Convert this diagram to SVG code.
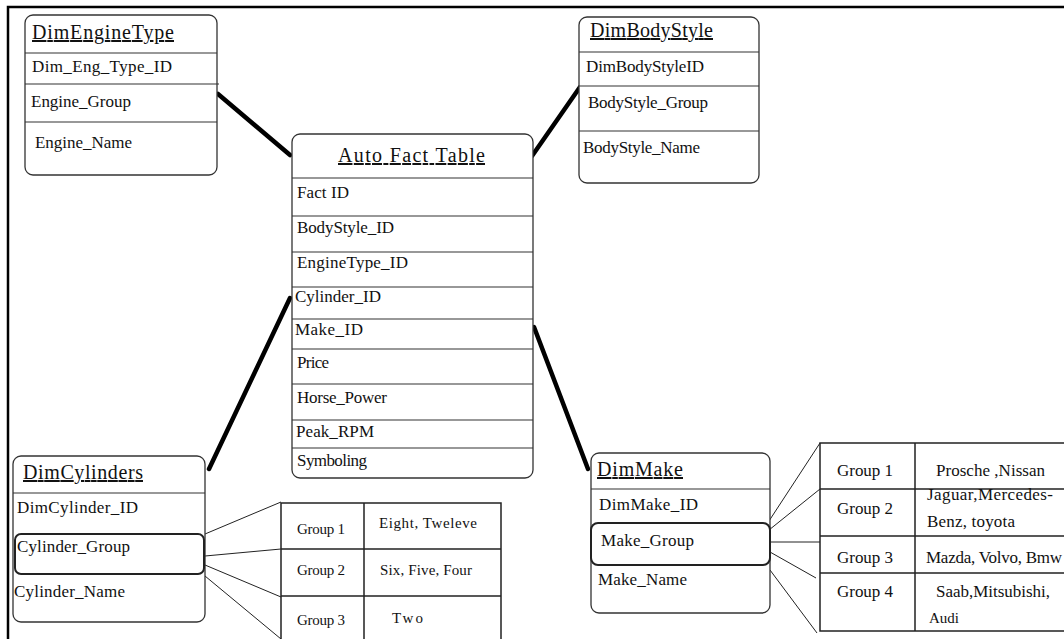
<svg xmlns="http://www.w3.org/2000/svg" width="1064" height="639" viewBox="0 0 1064 639">
<style>
text{font-family:"Liberation Serif","Times New Roman",serif;fill:#111;font-size:17px}
.t{font-size:20px;text-decoration:underline}
.s{font-size:15px}
.box{fill:#fff;stroke:#333;stroke-width:1.3}
.in{fill:none;stroke:#222;stroke-width:2}
.ln{stroke:#333;stroke-width:1.2}
.thick{stroke:#000;stroke-width:4.5;stroke-linecap:round;fill:none}
.thin{stroke:#222;stroke-width:1;fill:none}
.tb{fill:none;stroke:#222;stroke-width:1.5}
</style>
<rect width="1064" height="639" fill="#fff"/>
<path d="M8 639 V7 H1064" fill="none" stroke="#000" stroke-width="2.5"/>

<g id="connectors">
<line class="thick" x1="218" y1="94" x2="290" y2="155"/>
<line class="thick" x1="580" y1="87" x2="532" y2="156"/>
<line class="thick" x1="290" y1="298" x2="209" y2="469"/>
<line class="thick" x1="534" y1="327" x2="588" y2="469"/>
<line class="thin" x1="205" y1="534" x2="281" y2="502"/>
<line class="thin" x1="205" y1="556" x2="281" y2="549"/>
<line class="thin" x1="205" y1="565" x2="281" y2="597"/>
<line class="thin" x1="205" y1="576" x2="281" y2="639"/>
<line class="thin" x1="769" y1="521" x2="820" y2="443"/>
<line class="thin" x1="769" y1="530" x2="820" y2="489"/>
<line class="thin" x1="770" y1="542" x2="820" y2="542"/>
<line class="thin" x1="770" y1="552" x2="816" y2="578"/>
<line class="thin" x1="770" y1="570" x2="817" y2="633"/>
</g>

<g id="DimEngineType">
<rect class="box" x="25" y="15" width="192" height="160" rx="8"/>
<line class="ln" x1="25" y1="53" x2="217" y2="53"/>
<line class="ln" x1="25" y1="84" x2="219" y2="84"/>
<line class="ln" x1="25" y1="122" x2="217" y2="122"/>
<text class="t" x="32" y="39" textLength="142">DimEngineType</text>
<text x="32" y="72" textLength="140">Dim_Eng_Type_ID</text>
<text x="31" y="107" textLength="100">Engine_Group</text>
<text x="35" y="148" textLength="97">Engine_Name</text>
</g>

<g id="DimBodyStyle">
<rect class="box" x="579" y="17" width="180" height="166" rx="8"/>
<line class="ln" x1="579" y1="52" x2="759" y2="52"/>
<line class="ln" x1="579" y1="86" x2="759" y2="86"/>
<line class="ln" x1="579" y1="131" x2="759" y2="131"/>
<text class="t" x="590" y="37" textLength="123">DimBodyStyle</text>
<text x="586" y="72" textLength="118">DimBodyStyleID</text>
<text x="588" y="108" textLength="120">BodyStyle_Group</text>
<text x="583" y="153" textLength="117">BodyStyle_Name</text>
</g>

<g id="AutoFactTable">
<rect class="box" x="292" y="134" width="241" height="344" rx="8"/>
<line class="ln" x1="292" y1="178" x2="533" y2="178"/>
<line class="ln" x1="292" y1="216" x2="533" y2="216"/>
<line class="ln" x1="292" y1="252" x2="533" y2="252"/>
<line class="ln" x1="292" y1="287" x2="533" y2="287"/>
<line class="ln" x1="292" y1="319" x2="533" y2="319"/>
<line class="ln" x1="292" y1="349" x2="533" y2="349"/>
<line class="ln" x1="292" y1="384" x2="533" y2="384"/>
<line class="ln" x1="292" y1="420" x2="533" y2="420"/>
<line class="ln" x1="292" y1="448" x2="533" y2="448"/>
<text class="t" x="338" y="162" textLength="147">Auto  Fact  Table</text>
<text x="297" y="198" textLength="52">Fact ID</text>
<text x="297" y="233" textLength="97">BodyStyle_ID</text>
<text x="297" y="268" textLength="111">EngineType_ID</text>
<text x="295" y="302" textLength="86">Cylinder_ID</text>
<text x="295" y="335" textLength="68">Make_ID</text>
<text x="297" y="368" textLength="32">Price</text>
<text x="297" y="403" textLength="90">Horse_Power</text>
<text x="296" y="437" textLength="78">Peak_RPM</text>
<text x="297" y="466" textLength="70">Symboling</text>
</g>

<g id="DimCylinders">
<rect class="box" x="13" y="456" width="192" height="166" rx="8"/>
<line class="ln" x1="13" y1="493" x2="205" y2="493"/>
<rect class="in" x="15" y="534" width="189" height="40" rx="6"/>
<text class="t" x="23" y="479" textLength="120">DimCylinders</text>
<text x="17" y="513" textLength="121">DimCylinder_ID</text>
<text x="17" y="552" textLength="113">Cylinder_Group</text>
<text x="14" y="597" textLength="111">Cylinder_Name</text>
</g>

<g id="CylinderGroups">
<path class="tb" d="M281 639 V503 H501 V639 M364 503 V639 M281 549 H501 M281 596 H501"/>
<text class="s" x="297" y="534" textLength="48">Group 1</text>
<text class="s" x="379" y="528" textLength="98">Eight, Tweleve</text>
<text class="s" x="297" y="575" textLength="48">Group 2</text>
<text class="s" x="380" y="575" textLength="92">Six, Five, Four</text>
<text class="s" x="297" y="625" textLength="48">Group 3</text>
<text class="s" x="392" y="623" textLength="31">Two</text>
</g>

<g id="DimMake">
<rect class="box" x="591" y="453" width="179" height="160" rx="8"/>
<line class="ln" x1="591" y1="489" x2="770" y2="489"/>
<rect class="in" x="591" y="523" width="179" height="42" rx="7"/>
<text class="t" x="597" y="476" textLength="86">DimMake</text>
<text x="599" y="510" textLength="99">DimMake_ID</text>
<text x="601" y="546" textLength="93">Make_Group</text>
<text x="598" y="585" textLength="89">Make_Name</text>
</g>

<g id="MakeGroups">
<path class="tb" d="M1064 443 H820 V631 H1064 M915 443 V631 M820 489 H1064 M820 536 H1064 M820 573 H1064"/>
<text x="837" y="476" textLength="56">Group 1</text>
<text x="936" y="476" textLength="109">Prosche ,Nissan</text>
<text x="837" y="514" textLength="56">Group 2</text>
<text x="927" y="500" textLength="126">Jaguar,Mercedes-</text>
<text x="927" y="527" textLength="88">Benz, toyota</text>
<text x="837" y="563" textLength="56">Group 3</text>
<text x="926" y="563" textLength="136">Mazda, Volvo, Bmw</text>
<text x="837" y="597" textLength="56">Group 4</text>
<text x="936" y="597" textLength="114">Saab,Mitsubishi,</text>
<text class="s" x="929" y="623" textLength="30">Audi</text>
</g>
</svg>
